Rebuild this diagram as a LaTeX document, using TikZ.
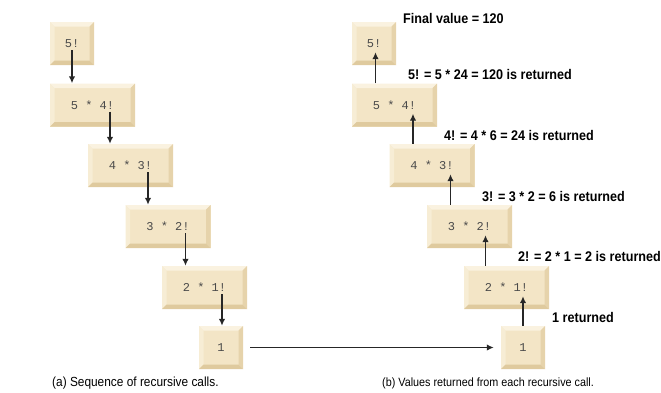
\documentclass[tikz,border=0pt]{standalone}
\usepackage{fontspec}
\setmainfont{Liberation Sans}
\setmonofont{Liberation Mono}
\newfontfamily\lblfont[FakeStretch=0.9]{Liberation Sans}
\usetikzlibrary{arrows.meta}

\definecolor{boxface}{HTML}{F3E5C6}
\definecolor{bevtop}{HTML}{FAF2E0}
\definecolor{bevleft}{HTML}{F7EDD5}
\definecolor{bevright}{HTML}{E6D3AB}
\definecolor{bevbot}{HTML}{DFCA9E}
\definecolor{boxtext}{HTML}{4A4A4A}

\begin{document}
\begin{tikzpicture}
[x=1pt,y=-1pt,%
  frame/.style={rectangle,inner sep=0pt,minimum width=44pt,minimum height=43pt,
    fill=boxface,font=\ttfamily\fontsize{12}{13}\selectfont,text=boxtext,
    path picture={
      \fill[bevtop] (path picture bounding box.north west) -- (path picture bounding box.north east)
        -- ([shift={(-4.5pt,-4.5pt)}]path picture bounding box.north east)
        -- ([shift={(4.5pt,-4.5pt)}]path picture bounding box.north west) -- cycle;
      \fill[bevleft] (path picture bounding box.north west) -- (path picture bounding box.south west)
        -- ([shift={(4.5pt,4.5pt)}]path picture bounding box.south west)
        -- ([shift={(4.5pt,-4.5pt)}]path picture bounding box.north west) -- cycle;
      \fill[bevright] (path picture bounding box.north east) -- (path picture bounding box.south east)
        -- ([shift={(-4.5pt,4.5pt)}]path picture bounding box.south east)
        -- ([shift={(-4.5pt,-4.5pt)}]path picture bounding box.north east) -- cycle;
      \fill[bevbot] (path picture bounding box.south west) -- (path picture bounding box.south east)
        -- ([shift={(-4.5pt,4.5pt)}]path picture bounding box.south east)
        -- ([shift={(4.5pt,4.5pt)}]path picture bounding box.south west) -- cycle;
    }},%
  wide/.style={frame,minimum width=85pt},%
  call/.style={-{Latex[length=7pt,width=6.5pt]},line width=1.8pt,black!85},%
  ret/.style={-{Latex[length=7pt,width=6.5pt]},line width=1.8pt,black!85},%
  note/.style={anchor=west,inner sep=0pt,font=\lblfont\bfseries\fontsize{14}{16}\selectfont},%
  capt/.style={anchor=west,inner sep=0pt,font=\lblfont\fontsize{13.2}{15}\selectfont}]
\useasboundingbox (0,0) rectangle (661,392);

% (a) sequence of calls
\node[frame] (a5) at (72,43.5) {5!};
\node[wide] (a4) at (92.5,105) {5 * 4!};
\node[wide] (a3) at (130.5,165.5) {4 * 3!};
\node[wide] (a2) at (168,226.5) {3 * 2!};
\node[wide] (a1) at (204.5,287.5) {2 * 1!};
\node[frame] (a0) at (221,347.5) {1};

\draw[call,shorten <=-15pt] (a5.south) -- (a5.south |- a4.north);
\draw[call,shorten <=-15pt] ([xshift=17.5pt]a4.south) -- ([xshift=17.5pt]a4.south |- a3.north);
\draw[call,shorten <=-15pt] ([xshift=17.5pt]a3.south) -- ([xshift=17.5pt]a3.south |- a2.north);
\draw[call,shorten <=-15pt] ([xshift=17.5pt]a2.south) -- ([xshift=17.5pt]a2.south |- a1.north);
\draw[call,shorten <=-15pt] ([xshift=17.5pt]a1.south) -- ([xshift=17.5pt]a1.south |- a0.north);

% (b) values returned
\node[frame] (b5) at (374,43.5) {5!};
\node[wide] (b4) at (394.5,105) {5 * 4!};
\node[wide] (b3) at (432,165.5) {4 * 3!};
\node[wide] (b2) at (469.5,226.5) {3 * 2!};
\node[wide] (b1) at (506.5,287.5) {2 * 1!};
\node[frame] (b0) at (523,347.5) {1};

\draw[ret,shorten >=-13pt] ([xshift=-19pt]b4.north) -- ([xshift=-19pt]b4.north |- b5.south);
\draw[ret,shorten >=-13pt] ([xshift=-19pt]b3.north) -- ([xshift=-19pt]b3.north |- b4.south);
\draw[ret,shorten >=-13pt] ([xshift=-19pt]b2.north) -- ([xshift=-19pt]b2.north |- b3.south);
\draw[ret,shorten >=-13pt] ([xshift=-21pt]b1.north) -- ([xshift=-21pt]b1.north |- b2.south);
\draw[ret,shorten >=-13pt] (b0.north) -- (b0.north |- b1.south);

\draw[ret,line width=1.4pt] ([xshift=7pt]a0.east) -- ([xshift=-7pt]b0.west);

\node[note] (fin) at (403,18) {Final value = 120};
\node[note] (v5) at (408,74) {5! = 5 * 24 = 120 is returned};
\node[note] (v4) at (444,135) {4! = 4 * 6 = 24 is returned};
\node[note] (v3) at (482,196) {3! = 3 * 2 = 6 is returned};
\node[note] (v2) at (518,256) {2! = 2 * 1 = 2 is returned};
\node[note] (v1) at (552,317) {1 returned};

\node[capt] (capa) at (52,383) {(a) Sequence of recursive calls.};
\node[capt,font=\lblfont\fontsize{12}{15}\selectfont] (capb) at (382,383) {(b) Values returned from each recursive call.};
\end{tikzpicture}
\end{document}
